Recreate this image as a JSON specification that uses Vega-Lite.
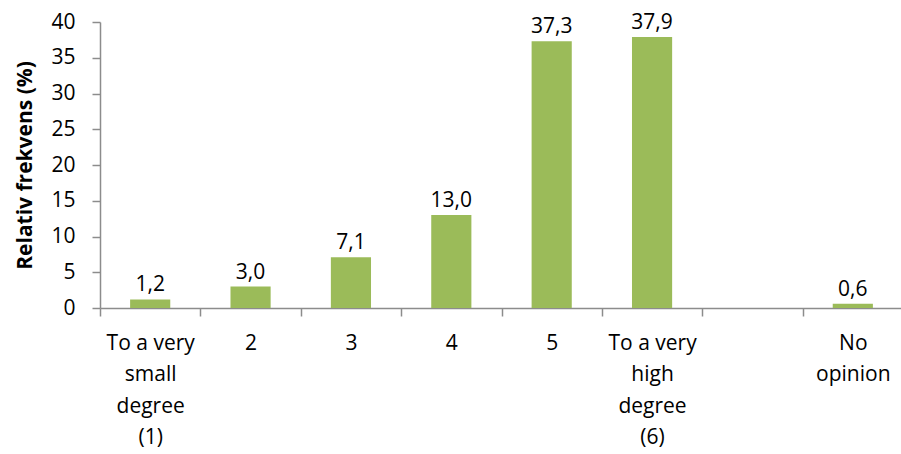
{
  "$schema": "https://vega.github.io/schema/vega-lite/v6.json",
  "width": 803,
  "height": 286,
  "autosize": "none",
  "padding": {"left": 100, "top": 22, "right": 0, "bottom": 146},
  "background": "white",
  "config": {
    "font": "Open Sans",
    "view": {"stroke": null}
  },
  "data": {
    "values": [
      {"category": "To a very|small|degree|(1)", "value": 1.2, "label": "1,2"},
      {"category": "2", "value": 3.0, "label": "3,0"},
      {"category": "3", "value": 7.1, "label": "7,1"},
      {"category": "4", "value": 13.0, "label": "13,0"},
      {"category": "5", "value": 37.3, "label": "37,3"},
      {"category": "To a very|high|degree|(6)", "value": 37.9, "label": "37,9"},
      {"category": "No|opinion", "value": 0.6, "label": "0,6"}
    ]
  },
  "encoding": {
    "x": {
      "field": "category",
      "type": "nominal",
      "sort": null,
      "scale": {
        "domain": ["To a very|small|degree|(1)", "2", "3", "4", "5", "To a very|high|degree|(6)", "blank", "No|opinion"],
        "paddingInner": 0,
        "paddingOuter": 0
      },
      "axis": {
        "title": null,
        "labelAngle": 0,
        "labelExpr": "datum.label == 'blank' ? '' : split(datum.label, '|')",
        "labelFontSize": 21,
        "labelColor": "black",
        "labelLineHeight": 31.5,
        "labelPadding": 16,
        "labelBaseline": "top",
        "tickBand": "extent",
        "tickSize": 8,
        "tickColor": "#8c8c8c",
        "domainColor": "#8c8c8c",
        "tickWidth": 1.5,
        "domainWidth": 1.5,
        "labelLimit": 200
      }
    },
    "y": {
      "field": "value",
      "type": "quantitative",
      "scale": {"domain": [0, 40], "nice": false},
      "axis": {
        "title": "Relativ frekvens (%)",
        "titleFontSize": 21,
        "titleFontWeight": "bold",
        "titleColor": "black",
        "titlePadding": 15,
        "values": [0, 5, 10, 15, 20, 25, 30, 35, 40],
        "grid": false,
        "labelFontSize": 21,
        "labelColor": "black",
        "labelPadding": 17,
        "tickSize": 8,
        "tickColor": "#8c8c8c",
        "domainColor": "#8c8c8c",
        "tickWidth": 1.5,
        "domainWidth": 1.5
      }
    }
  },
  "layer": [
    {"mark": {"type": "bar", "color": "#9BBB59", "width": {"band": 0.4}}},
    {
      "mark": {"type": "text", "baseline": "bottom", "dy": -4, "fontSize": 21, "color": "black"},
      "encoding": {"text": {"field": "label"}}
    }
  ]
}
